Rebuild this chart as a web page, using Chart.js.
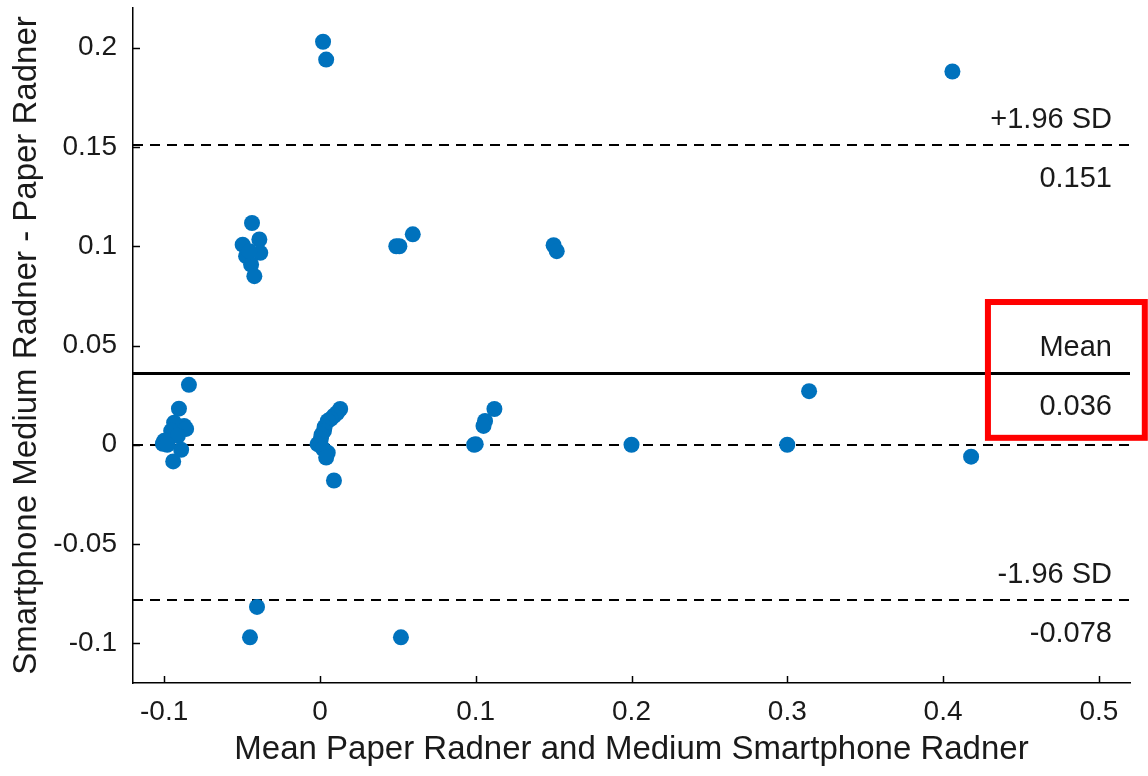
<!DOCTYPE html>
<html>
<head>
<meta charset="utf-8">
<script src="https://cdn.jsdelivr.net/npm/chart.js@4/dist/chart.umd.min.js"></script>
<style>
  html, body { margin: 0; padding: 0; background: #fff; }
  #wrap { width: 1148px; height: 776px; }
</style>
</head>
<body>
<div id="wrap"><canvas id="c" width="1148" height="776"></canvas></div>
<script>
// ---- data ----
const xValues = [
  0.002, 0.004, 0.406,
  -0.0436, -0.0389, -0.0496, -0.0383, -0.0474, -0.0442, -0.0421, -0.0453,
  0.049, 0.051, 0.0596, 0.150, 0.152,
  -0.0841, -0.0905, -0.0872, -0.0936, -0.0955, -0.1000, -0.1008, -0.0891, -0.0942, -0.0859, -0.0912, -0.098,
  0.013, 0.011, 0.009, 0.007, 0.005, 0.003, 0.0026, 0.001, 0.0006, 0.0, -0.0015, 0.002, 0.005, 0.004, 0.009,
  0.112, 0.106, 0.105, 0.100, 0.099,
  0.200, 0.300, 0.314, 0.418,
  -0.0404, -0.0449, 0.052
];
const yValues = [
  0.203, 0.194, 0.188,
  0.1117, 0.1034, 0.1008, 0.0967, 0.0950, 0.0908, 0.0849, 0.0975,
  0.100, 0.100, 0.106, 0.1005, 0.0975,
  0.0302, 0.0182, 0.0095, 0.0111, 0.0070, 0.0020, 0.0005, -0.0025, -0.0084, 0.0080, 0.0045, 0.0,
  0.018, 0.016, 0.0146, 0.013, 0.012, 0.009, 0.007, 0.005, 0.003, 0.0, 0.0003, -0.002, -0.004, -0.0064, -0.018,
  0.018, 0.012, 0.0095, 0.0003, 0.0,
  0.0, 0.0, 0.027, -0.006,
  -0.0817, -0.097, -0.097
];
const xTickValues = [-0.1, 0, 0.1, 0.2, 0.3, 0.4, 0.5];
const xTickLabels = ['-0.1', '0', '0.1', '0.2', '0.3', '0.4', '0.5'];
const yTickValues = [-0.1, -0.05, 0, 0.05, 0.1, 0.15, 0.2];
const yTickLabels = ['-0.1', '-0.05', '0', '0.05', '0.1', '0.15', '0.2'];
const meanDiff = 0.036;
const upperLoA = 0.151;
const lowerLoA = -0.078;
const zeroLine = 0;
const limitTitles = ['+1.96 SD', 'Mean', '-1.96 SD'];
const limitValueLabels = ['0.151', '0.036', '-0.078'];
const highlightBox = { x0: 0.4288, x1: 0.5295, y0: 0.0035, y1: 0.0719 };

const points = xValues.map((x, i) => ({ x: x, y: yValues[i] }));
const FONT = "'Liberation Sans', Arial, Helvetica, sans-serif";
const INK = '#1a1a1a';

const overlay = {
  id: 'overlay',
  beforeDatasetsDraw(chart) {
    const { ctx, chartArea: a, scales: { x, y } } = chart;
    ctx.save();
    ctx.strokeStyle = '#000';
    // dashed lines
    ctx.lineWidth = 2;
    ctx.setLineDash([10, 7]);
    [upperLoA, zeroLine, lowerLoA].forEach(v => {
      const py = Math.round(y.getPixelForValue(v));
      ctx.beginPath(); ctx.moveTo(a.left, py); ctx.lineTo(a.right, py); ctx.stroke();
    });
    ctx.setLineDash([]);
    ctx.lineWidth = 3;
    const pm = Math.round(y.getPixelForValue(meanDiff)) + 0.5;
    ctx.beginPath(); ctx.moveTo(a.left, pm); ctx.lineTo(a.right, pm); ctx.stroke();
    // texts
    ctx.fillStyle = INK;
    ctx.font = '29px ' + FONT;
    ctx.textAlign = 'right';
    ctx.textBaseline = 'alphabetic';
    const tx = a.right - 18;
    [upperLoA, meanDiff, lowerLoA].forEach((v, i) => {
      const py = y.getPixelForValue(v);
      ctx.fillText(limitTitles[i], tx, py - 17);
      ctx.fillText(limitValueLabels[i], tx, py + 42);
    });
    // ticks inward
    ctx.lineWidth = 1.5;
    ctx.strokeStyle = '#000';
    xTickValues.forEach(v => {
      const px = Math.round(x.getPixelForValue(v)) + 0.5;
      ctx.beginPath(); ctx.moveTo(px, a.bottom); ctx.lineTo(px, a.bottom - 7); ctx.stroke();
    });
    yTickValues.forEach(v => {
      const py = Math.round(y.getPixelForValue(v)) + 0.5;
      ctx.beginPath(); ctx.moveTo(a.left, py); ctx.lineTo(a.left + 7, py); ctx.stroke();
    });
    ctx.restore();
  },
  afterDraw(chart) {
    const { ctx, scales: { x, y } } = chart;
    ctx.save();
    ctx.strokeStyle = '#ff0000';
    ctx.lineWidth = 6;
    const l = x.getPixelForValue(highlightBox.x0), r = x.getPixelForValue(highlightBox.x1);
    const t = y.getPixelForValue(highlightBox.y1), b = y.getPixelForValue(highlightBox.y0);
    ctx.strokeRect(l, t, r - l, b - t);
    ctx.restore();
  }
};

new Chart(document.getElementById('c'), {
  type: 'scatter',
  data: {
    datasets: [{
      data: points,
      backgroundColor: '#0072BD',
      borderWidth: 0,
      pointRadius: 8,
      pointHoverRadius: 8
    }]
  },
  options: {
    responsive: false,
    animation: false,
    devicePixelRatio: 1,
    layout: { padding: { top: 8, right: 18, left: 0, bottom: 0 } },
    plugins: { legend: { display: false }, tooltip: { enabled: false } },
    scales: {
      x: {
        type: 'linear',
        min: -0.12, max: 0.52,
        afterFit(s) { s.height = 93; s.paddingLeft = 0; s.paddingRight = 0; },
        afterBuildTicks(s) { s.ticks = xTickValues.map(v => ({ value: v })); },
        grid: { display: false, drawTicks: false },
        border: { display: true, color: '#000', width: 1.5 },
        ticks: {
          padding: 12,
          maxRotation: 0,
          autoSkip: false,
          color: INK,
          font: { family: FONT, size: 28 },
          callback: (v, i) => xTickLabels[i]
        },
        title: {
          display: true,
          text: 'Mean Paper Radner and Medium Smartphone Radner',
          color: INK,
          font: { family: FONT, size: 33 },
          padding: { top: 0, bottom: 6 }
        }
      },
      y: {
        type: 'linear',
        min: -0.12, max: 0.22,
        afterFit(s) { s.width = 133; s.paddingTop = 0; s.paddingBottom = 0; },
        afterBuildTicks(s) { s.ticks = yTickValues.map(v => ({ value: v })); },
        grid: { display: false, drawTicks: false },
        border: { display: true, color: '#000', width: 1.5 },
        ticks: {
          padding: 16,
          autoSkip: false,
          color: INK,
          font: { family: FONT, size: 28 },
          callback: (v, i) => yTickLabels[i]
        },
        title: {
          display: true,
          text: 'Smartphone Medium Radner - Paper Radner',
          color: INK,
          font: { family: FONT, size: 33 },
          padding: { top: 7, bottom: 0 }
        }
      }
    }
  },
  plugins: [overlay]
});
</script>
</body>
</html>
